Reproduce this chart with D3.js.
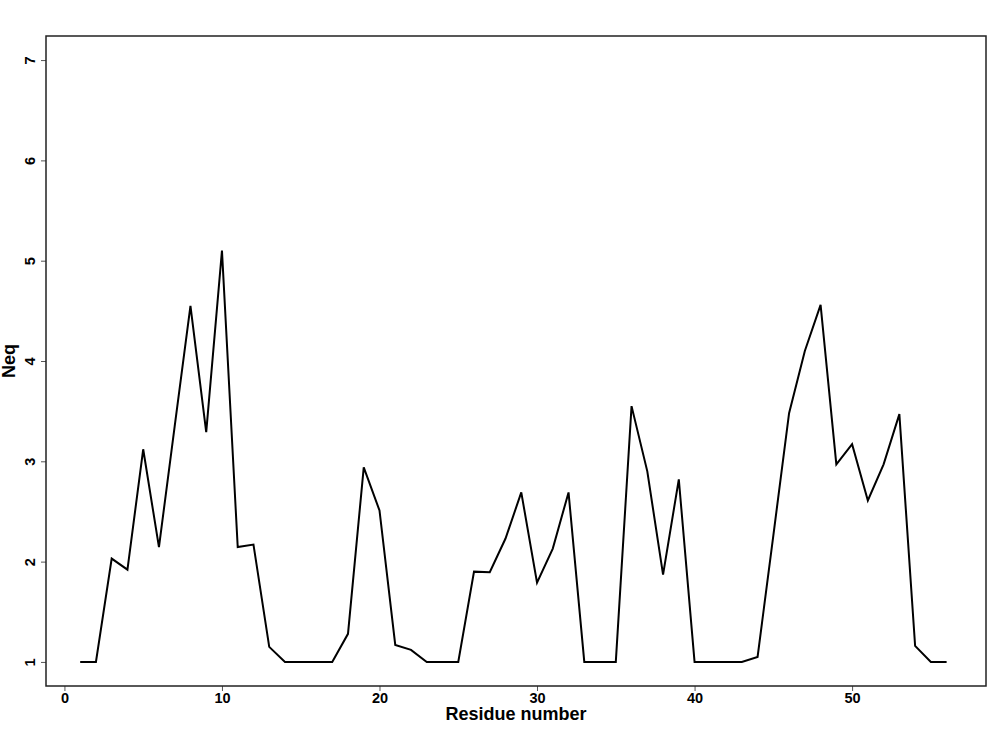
<!DOCTYPE html>
<html>
<head>
<meta charset="utf-8">
<script src="https://cdn.jsdelivr.net/npm/d3@7"></script>
<style>
  body { margin: 0; background: #fff; }
  svg { display: block; }
  text { font-family: "Liberation Sans", Arial, sans-serif; font-weight: bold; fill: #000; }
</style>
</head>
<body>
<div id="chart"></div>
<script>
// data
const residues = d3.range(1, 57)
const neq = [
  1, 1, 2.03, 1.92, 3.12, 2.145, 3.35, 4.55, 3.29, 5.10,
  2.145, 2.17, 1.15, 1, 1, 1, 1, 1.28, 2.94, 2.51,
  1.17, 1.12, 1, 1, 1, 1.90, 1.895, 2.23, 2.69, 1.79,
  2.13, 2.69, 1, 1, 1, 3.55, 2.90, 1.87, 2.82, 1,
  1, 1, 1, 1.05, 2.26, 3.48, 4.10, 4.56, 2.97, 3.17,
  2.61, 2.97, 3.47, 1.16, 1, 1
]
const xTicks = [0, 10, 20, 30, 40, 50]
const yTicks = [1, 2, 3, 4, 5, 6, 7]

const width = 1000, height = 750
const box = { left: 46, right: 986, top: 36, bottom: 686 }

const svg = d3.select(`#chart`).append(`svg`)
  .attr(`width`, width)
  .attr(`height`, height)

// scales (R style 4% padding)
const x = d3.scaleLinear().domain([-1.17, 58.5]).range([box.left, box.right])
const y = d3.scaleLinear().domain([0.76, 7.24]).range([box.bottom, box.top])

// x axis
const xAxis = svg.append(`g`)
  .attr(`transform`, `translate(0,${box.bottom})`)
  .call(d3.axisBottom(x).tickValues(xTicks).tickSize(5).tickPadding(1.5).tickFormat(d3.format(`d`)))
xAxis.select(`.domain`).remove()
xAxis.selectAll(`line`).attr(`stroke`, `#555`)
xAxis.selectAll(`text`).attr(`font-size`, 14.5).attr(`font-family`, null)

// y axis, labels rotated like R
const yAxis = svg.append(`g`)
  .attr(`transform`, `translate(${box.left},0)`)
  .call(d3.axisLeft(y).tickValues(yTicks).tickSize(5).tickFormat(d3.format(`d`)))
yAxis.select(`.domain`).remove()
yAxis.selectAll(`line`).attr(`stroke`, `#555`)
yAxis.selectAll(`text`)
  .attr(`font-size`, 14.5)
  .attr(`font-family`, null)
  .attr(`x`, null).attr(`dy`, null)
  .attr(`text-anchor`, `middle`)
  .attr(`transform`, `translate(-11,0) rotate(-90)`)

// plot frame
svg.append(`rect`)
  .attr(`x`, box.left).attr(`y`, box.top)
  .attr(`width`, box.right - box.left).attr(`height`, box.bottom - box.top)
  .attr(`fill`, `none`).attr(`stroke`, `#222`).attr(`stroke-width`, 1.5)

// the line
const line = d3.line().x((d, i) => x(residues[i])).y(d => y(d))
svg.append(`path`)
  .datum(neq)
  .attr(`d`, line)
  .attr(`fill`, `none`)
  .attr(`stroke`, `#000`)
  .attr(`stroke-width`, 2)
  .attr(`stroke-linejoin`, `miter`)

// axis titles
svg.append(`text`)
  .attr(`x`, (box.left + box.right) / 2).attr(`y`, 720)
  .attr(`text-anchor`, `middle`).attr(`font-size`, 18)
  .text(`Residue number`)

svg.append(`text`)
  .attr(`transform`, `translate(15,${(box.top + box.bottom) / 2}) rotate(-90)`)
  .attr(`text-anchor`, `middle`).attr(`font-size`, 18)
  .text(`Neq`)
</script>
</body>
</html>
